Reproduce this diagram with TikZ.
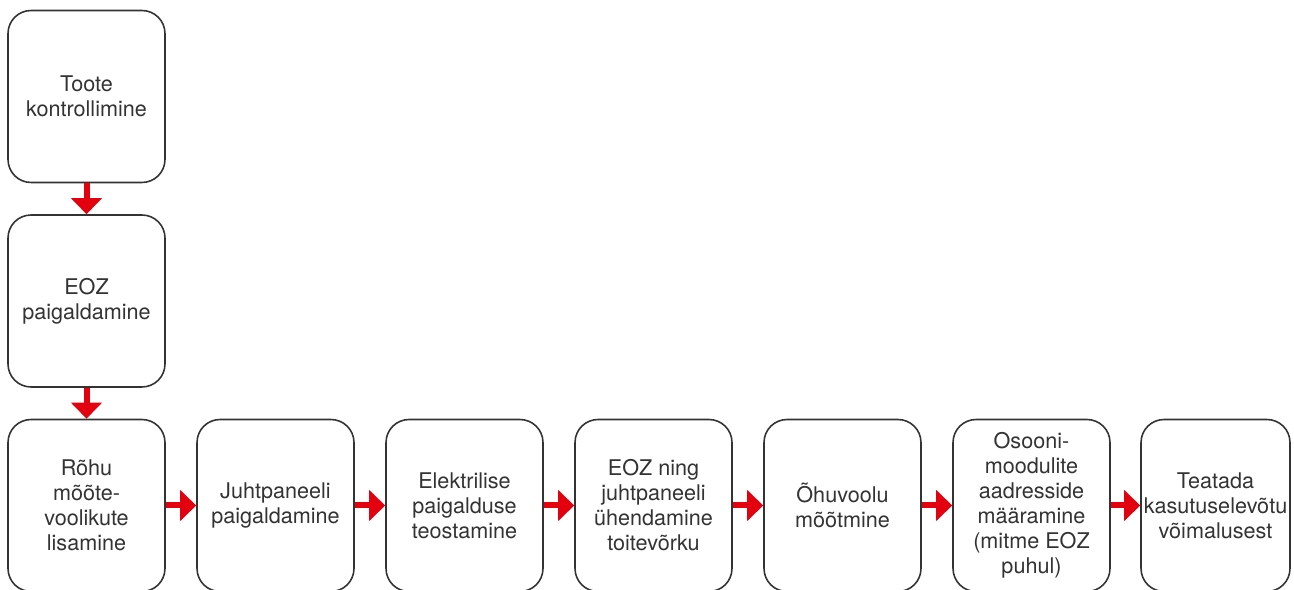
\documentclass[tikz,border=0pt]{standalone}
\usepackage{fontspec}
\setmainfont{TeX Gyre Heros}
\usetikzlibrary{arrows.meta}
\definecolor{boxline}{RGB}{51,51,51}
\definecolor{flowred}{RGB}{227,0,15}
\begin{document}
\begin{tikzpicture}[x=0.02cm,y=-0.02cm,
 box/.style={draw=boxline,line width=0.9pt,rounded corners=0.46cm,minimum width=3.14cm,minimum height=3.44cm,align=center,text=boxline,font=\fontsize{12.3}{14.2}\selectfont},
 flow/.style={draw=flowred,line width=0.12cm,-{Triangle[length=0.32cm,width=0.6cm]}}]
 \useasboundingbox (0,0) rectangle (1294,590);
 \node[box] (toote) at (86.5,96.5) {Toote\\kontrollimine};
 \node[box] (paig) at (86.5,301) {EOZ\\paigaldamine};
 \node[box] (rohu) at (86.5,505.5) {Rõhu\\mõõte-\\voolikute\\lisamine};
 \node[box] (juht) at (275.5,505.5) {Juhtpaneeli\\paigaldamine};
 \node[box] (elek) at (464.5,505.5) {Elektrilise\\paigalduse\\teostamine};
 \node[box] (toit) at (653.5,505.5) {EOZ ning\\juhtpaneeli\\ühendamine\\toitevõrku};
 \node[box] (ohu) at (842.5,505.5) {Õhuvoolu\\mõõtmine};
 \node[box] (osoon) at (1031.5,505.5) {Osooni-\\moodulite\\aadresside\\määramine\\(mitme EOZ\\puhul)};
 \node[box,minimum width=2.98cm,inner xsep=0pt] (teat) at (1215.5,505.5) {Teatada\\kasutuselevõtu\\võimalusest};
 \draw[flow] (toote) -- (paig);
 \draw[flow] (paig) -- (rohu);
 \draw[flow] (rohu) -- (juht);
 \draw[flow] (juht) -- (elek);
 \draw[flow] (elek) -- (toit);
 \draw[flow] (toit) -- (ohu);
 \draw[flow] (ohu) -- (osoon);
 \draw[flow] (osoon) -- (teat);
\end{tikzpicture}
\end{document}
